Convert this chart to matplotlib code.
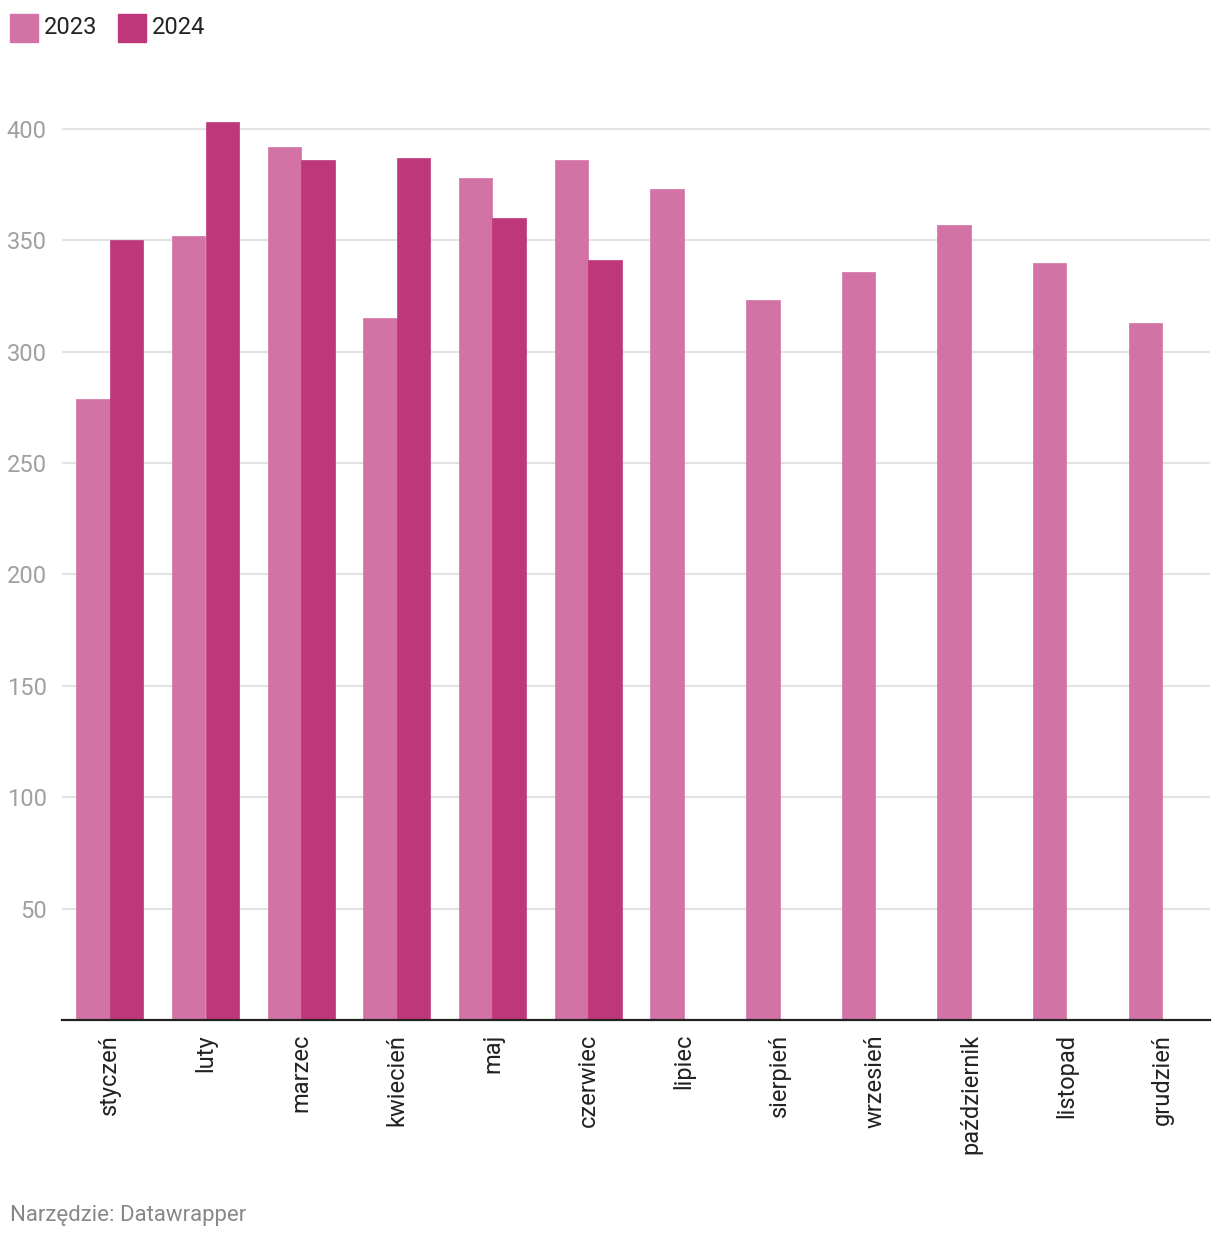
import matplotlib
matplotlib.use('Agg')
import matplotlib.pyplot as plt
from matplotlib.patches import Rectangle
import numpy as np

plt.rcParams['font.family'] = ['Roboto', 'DejaVu Sans']

# Dane
miesiace = ['styczeń', 'luty', 'marzec', 'kwiecień', 'maj', 'czerwiec',
            'lipiec', 'sierpień', 'wrzesień', 'październik', 'listopad', 'grudzień']
wartosci_2023 = [279, 352, 392, 315, 378, 386, 373, 323, 336, 357, 340, 313]
wartosci_2024 = [350, 403, 386, 387, 360, 341]
lata = ['2023', '2024']
kolory = ['#d372a4', '#bf377b']
y_ticks = [50, 100, 150, 200, 250, 300, 350, 400]

fig = plt.figure(figsize=(12.2, 12.4), dpi=100)
ax = fig.add_axes([62 / 1220, 1 - 1020 / 1240, 1148 / 1220, (1020 - 106.7) / 1240])

x = np.arange(len(miesiace))
szer = 0.35
ax.bar(x - szer / 2, wartosci_2023, width=szer, color=kolory[0],
       edgecolor=kolory[0], linewidth=0.5, zorder=3)
ax.bar(np.arange(len(wartosci_2024)) + szer / 2, wartosci_2024, width=szer,
       color=kolory[1], edgecolor=kolory[1], linewidth=0.5, zorder=3)

ax.set_xlim(-0.5, len(miesiace) - 0.5)
ax.set_ylim(0, 410)

# Siatka i osie
ax.set_yticks(y_ticks)
ax.set_yticklabels([str(v) for v in y_ticks], fontsize=17, color='#a0a0a0')
ax.grid(axis='y', color='#e3e3e3', linewidth=1.5, zorder=0)
ax.tick_params(axis='y', length=0, pad=11)

ax.set_xticks(x)
ax.set_xticklabels(miesiace, rotation=90, fontsize=17, color='#222222', va='top')
ax.tick_params(axis='x', length=0, pad=10)

for s in ['top', 'right', 'left']:
    ax.spines[s].set_visible(False)
ax.spines['bottom'].set_color('#222222')
ax.spines['bottom'].set_linewidth(1.6)
ax.spines['bottom'].set_zorder(4)

# Legenda
pozycje = [10, 118]
for rok, kol, px in zip(lata, kolory, pozycje):
    fig.patches.append(Rectangle((px / 1220, 1 - 42 / 1240), 28 / 1220, 28 / 1240,
                                 transform=fig.transFigure, color=kol))
    fig.text((px + 34) / 1220, 1 - 27 / 1240, rok, fontsize=17, color='#222222',
             va='center', ha='left')

# Źródło
fig.text(10 / 1220, 1 - 1215 / 1240, 'Narzędzie: Datawrapper', fontsize=16,
         color='#888888', va='center', ha='left')

plt.savefig('out.png', dpi=100)
